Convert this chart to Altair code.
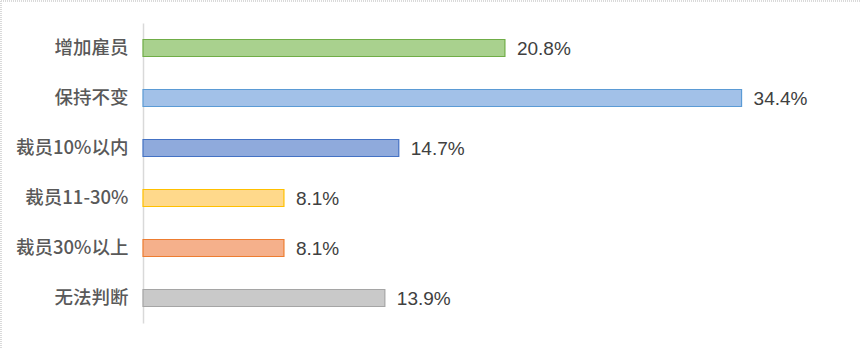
import altair as alt
import pandas as pd

categories = ["增加雇员", "保持不变", "裁员10%以内", "裁员11-30%", "裁员30%以上", "无法判断"]
values = [20.8, 34.4, 14.7, 8.1, 8.1, 13.9]
labels = ["20.8%", "34.4%", "14.7%", "8.1%", "8.1%", "13.9%"]
fills = ["#a9d18e", "#a2c1e8", "#8faadc", "#ffd98b", "#f5b08b", "#c9c9c9"]
strokes = ["#70ad47", "#5b9bd5", "#4472c4", "#ffc000", "#ed7d31", "#a5a5a5"]

df = pd.DataFrame({"cat": categories, "val": values, "label": labels})

y_enc = alt.Y("cat:N", sort=categories,
              scale=alt.Scale(paddingInner=0.66, paddingOuter=0.33),
              axis=alt.Axis(title=None, ticks=False, domain=True, domainColor="#d9d9d9",
                            domainWidth=1.5, labelFont="Noto Sans CJK SC", labelFontSize=18.5,
                            labelFontWeight=500,
                            labelColor="#595959", labelPadding=15, grid=False))
x_enc = alt.X("val:Q", scale=alt.Scale(domain=[0, 40], nice=False),
              axis=None)

bars = alt.Chart(df).mark_bar(size=17, strokeWidth=1.2).encode(
    y=y_enc, x=x_enc,
    color=alt.Color("cat:N", sort=categories, scale=alt.Scale(domain=categories, range=fills), legend=None),
    stroke=alt.Stroke("cat:N", sort=categories, scale=alt.Scale(domain=categories, range=strokes), legend=None),
)

text = alt.Chart(df).mark_text(align="left", baseline="middle", dx=12, dy=1,
                               font="Liberation Sans", fontSize=19, color="#404040").encode(
    y=alt.Y("cat:N", sort=categories), x="val:Q", text="label:N")

border_left = alt.Chart(df).mark_rule(color="#d9d9d9", strokeDash=[1, 1]).encode(
    x=alt.value(-142), y=alt.value(-22), y2=alt.value(325))
border_top = alt.Chart(df).mark_rule(color="#d9d9d9", strokeDash=[1, 1]).encode(
    x=alt.value(-142), x2=alt.value(718), y=alt.value(-22))

chart = alt.layer(bars, text, border_left, border_top).properties(
    width=696, height=300,
    background="white",
    autosize=alt.AutoSizeParams(type="none"),
    padding={"left": 143, "top": 23, "right": 24, "bottom": 25},
).configure_view(stroke=None)

chart.save("out.html", embed_options={"renderer": "svg", "actions": False})
